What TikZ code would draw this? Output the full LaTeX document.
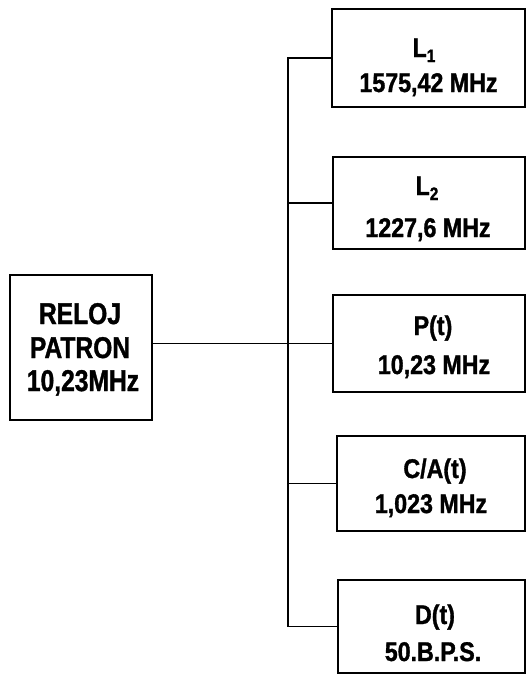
\documentclass[tikz,border=0pt]{standalone}
\usepackage{fontspec}
\newfontfamily\leftfont[FakeStretch=0.82,FakeBold=1.2]{Liberation Sans}
\newfontfamily\rightfont[FakeStretch=0.86,FakeBold=1.2]{Liberation Sans}
\begin{document}
\begin{tikzpicture}[x=1pt,y=-1pt,
  box/.style={draw, line width=2.4pt, inner sep=0pt},
  wire/.style={line width=1.2pt},
  ltext/.style={anchor=base, inner sep=0pt, font=\leftfont\bfseries\fontsize{30}{30}\selectfont},
  rtext/.style={anchor=base, inner sep=0pt, font=\rightfont\bfseries\fontsize{27}{27}\selectfont}]
\useasboundingbox (0,0) rectangle (527,675);
\fill[white] (0,0) rectangle (527,675);
% boxes
\node[box, minimum width=142pt, minimum height=145pt] (clk) at (81,347.5) {};
\node[box, minimum width=193pt, minimum height=98pt] (L1) at (428.5,58) {};
\node[box, minimum width=192pt, minimum height=92pt] (L2) at (429,203) {};
\node[box, minimum width=192pt, minimum height=97pt] (P) at (429,343.5) {};
\node[box, minimum width=188pt, minimum height=95pt] (CA) at (431,483.5) {};
\node[box, minimum width=187pt, minimum height=93pt] (D) at (431.5,626.5) {};
% texts
\node[ltext] (c1) at (80,324) {RELOJ};
\node[ltext] (c2) at (80,358) {PATRON};
\node[ltext] (c3) at (83,391) {10,23MHz};
\node[rtext] (l1a) at (424,57) {L{\fontsize{18}{18}\selectfont\raisebox{-5pt}{1}}};
\node[rtext] (l1b) at (428.5,92) {1575,42 MHz};
\node[rtext] (l2a) at (427,195) {L{\fontsize{18}{18}\selectfont\raisebox{-5pt}{2}}};
\node[rtext] (l2b) at (428,237) {1227,6 MHz};
\node[rtext] (pa) at (433,335) {P(t)};
\node[rtext] (pb) at (434,374) {10,23 MHz};
\node[rtext] (caa) at (435,478) {C/A(t)};
\node[rtext] (cab) at (431,513) {1,023 MHz};
\node[rtext] (da) at (435,624) {D(t)};
\node[rtext] (db) at (433,661) {50.B.P.S.};
% bus
\coordinate (bx) at (288,0);
\draw[wire] (clk.east |- P.west) -- (P.west);
\draw[wire] (L1.west) -- (L1.west -| bx) -- (D.west -| bx) -- (D.west);
\draw[wire] (L2.west -| bx) -- (L2.west);
\draw[wire] (CA.west -| bx) -- (CA.west);
\end{tikzpicture}
\end{document}
